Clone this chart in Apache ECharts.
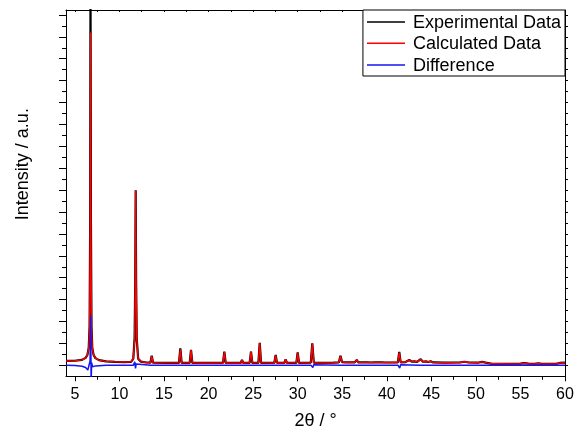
<!DOCTYPE html>
<html><head><meta charset="utf-8">
<script src="https://cdn.jsdelivr.net/npm/echarts@6/dist/echarts.min.js"></script>
<style>html,body{margin:0;padding:0;background:#fff}#c{width:577px;height:439px}</style>
</head><body><div id="c"></div>
<script>
// ---- data (2θ in degrees, intensity in arbitrary units) ----
const seriesNames = ['Experimental Data', 'Calculated Data', 'Difference'];
const seriesColors = ['#000000', '#ff0000', '#1414f0'];

const calcPoints = [
  [4.0,0.40],[5.0,0.42],[5.8,0.50],[6.2,0.68],[6.4,0.95],[6.55,1.6],[6.65,3.4],[6.71,11.5],[6.75,30.4],[6.80,11.5],[6.86,3.4],[6.95,1.6],[7.1,0.95],[7.3,0.66],[7.7,0.48],[8.5,0.36],[9.5,0.32],[10.5,0.30],[11.3,0.32],[11.55,0.6],[11.7,2.4],[11.77,7.5],[11.82,15.95],[11.87,7.5],[11.94,2.4],[12.1,0.6],[12.4,0.34],[13.0,0.26],
  [13.47,0.24],[13.62,0.85],[13.77,0.24],
  [15.26,0.23],[15.41,0.37],[15.56,0.23],
  [16.68,0.23],[16.83,1.47],[16.98,0.23],
  [17.88,0.23],[18.03,1.40],[18.18,0.23],
  [19.26,0.22],[19.41,0.37],[19.56,0.22],
  [21.62,0.22],[21.77,1.22],[21.92,0.22],
  [23.6,0.22],[23.75,0.49],[23.9,0.22],
  [24.61,0.23],[24.76,1.25],[24.91,0.23],
  [25.59,0.23],[25.74,2.01],[25.89,0.23],
  [27.38,0.22],[27.53,0.92],[27.68,0.22],
  [28.5,0.22],[28.65,0.55],[28.8,0.22],
  [29.2,0.23],[29.33,0.35],[29.46,0.23],
  [29.85,0.23],[30.0,1.16],[30.15,0.23],
  [31.47,0.24],[31.64,1.98],[31.81,0.24],
  [32.5,0.22],[34.0,0.24],
  [34.62,0.27],[34.8,0.85],[34.98,0.30],[35.4,0.27],
  [36.1,0.28],[36.25,0.37],[36.4,0.27],[36.5,0.28],[36.63,0.49],[36.78,0.28],
  [37.25,0.27],[37.4,0.31],[37.55,0.27],[37.85,0.27],[38.0,0.31],[38.15,0.26],
  [38.72,0.27],[38.87,0.45],[39.02,0.27],[39.45,0.27],[39.6,0.32],[39.75,0.26],
  [40.4,0.26],[40.55,0.30],[40.7,0.26],
  [41.24,0.27],[41.4,1.16],[41.56,0.28],
  [42.1,0.30],[42.53,0.49],[42.8,0.34],[43.1,0.36],[43.4,0.32],[43.8,0.55],[44.05,0.33],[44.4,0.36],[44.65,0.31],[44.93,0.37],[45.2,0.27],
  [46.5,0.24],[48.2,0.26],[48.7,0.33],[49.2,0.26],[50.2,0.24],[50.7,0.32],[51.1,0.25],[51.8,0.14],[54.0,0.13],[55.0,0.15],[55.4,0.20],[55.9,0.15],[56.6,0.13],[57.0,0.18],[57.4,0.13],[59.0,0.13],[59.4,0.22],[60.0,0.24]
];

const expPoints = [
  [4.0,0.40],[5.0,0.42],[5.8,0.50],[6.2,0.68],[6.4,0.95],[6.55,1.6],[6.65,3.6],[6.71,13],[6.75,35.5],[6.80,13],[6.86,3.6],[6.95,1.6],[7.1,0.95],[7.3,0.66],[7.7,0.48],[8.5,0.36],[9.5,0.32],[10.5,0.30],[11.3,0.32],[11.55,0.6],[11.7,2.5],[11.77,7.6],[11.82,16.0],[11.87,7.6],[11.94,2.4],[12.1,0.6],[12.4,0.34],[13.0,0.26],
  [13.47,0.24],[13.62,0.88],[13.77,0.24],
  [15.26,0.23],[15.41,0.37],[15.56,0.23],
  [16.68,0.23],[16.83,1.56],[16.98,0.23],
  [17.88,0.23],[18.03,1.42],[18.18,0.23],
  [19.26,0.22],[19.41,0.37],[19.56,0.22],
  [21.62,0.22],[21.77,1.25],[21.92,0.22],
  [23.6,0.22],[23.75,0.49],[23.9,0.22],
  [24.61,0.23],[24.76,1.25],[24.91,0.23],
  [25.59,0.23],[25.74,2.06],[25.89,0.23],
  [27.38,0.22],[27.53,0.95],[27.68,0.22],
  [28.5,0.22],[28.65,0.55],[28.8,0.22],
  [29.2,0.23],[29.33,0.35],[29.46,0.23],
  [29.85,0.23],[30.0,1.18],[30.15,0.23],
  [31.47,0.24],[31.64,2.02],[31.81,0.24],
  [32.5,0.22],[34.0,0.24],
  [34.62,0.27],[34.8,0.88],[34.98,0.30],[35.4,0.27],
  [36.1,0.28],[36.25,0.37],[36.4,0.27],[36.5,0.28],[36.63,0.50],[36.78,0.28],
  [37.25,0.27],[37.4,0.31],[37.55,0.27],[37.85,0.27],[38.0,0.31],[38.15,0.26],
  [38.72,0.27],[38.87,0.45],[39.02,0.27],[39.45,0.27],[39.6,0.32],[39.75,0.26],
  [40.4,0.26],[40.55,0.30],[40.7,0.26],
  [41.24,0.27],[41.4,1.22],[41.56,0.28],
  [42.1,0.30],[42.53,0.49],[42.8,0.34],[43.1,0.36],[43.4,0.32],[43.8,0.57],[44.05,0.33],[44.4,0.36],[44.65,0.31],[44.93,0.37],[45.2,0.27],
  [46.5,0.24],[48.2,0.26],[48.7,0.33],[49.2,0.26],[50.2,0.24],[50.7,0.32],[51.1,0.25],[51.8,0.14],[54.0,0.13],[55.0,0.15],[55.4,0.20],[55.9,0.15],[56.6,0.13],[57.0,0.18],[57.4,0.13],[59.0,0.13],[59.4,0.22],[60.0,0.24]
];

const diffPoints = [
  [4.0,0.0],[5.0,-0.02],[5.8,-0.08],[6.2,-0.2],[6.45,-0.42],[6.6,-0.28],[6.7,0.4],[6.77,4.53],[6.82,-1.6],[6.88,0.25],[6.97,-0.12],[7.3,-0.05],[8.5,0.0],
  [11.55,0.0],[11.72,0.33],[11.8,-0.27],[11.87,0.12],[12.0,0.0],
  [13.5,0],[13.6,0.06],[13.7,-0.05],[13.8,0],
  [16.7,0],[16.8,0.12],[16.9,-0.08],[17.0,0],
  [17.9,0],[18.0,-0.12],[18.08,0.05],[18.16,0],
  [21.65,0],[21.74,0.10],[21.82,-0.10],[21.9,0],
  [24.65,0],[24.74,-0.15],[24.82,0.05],[24.9,0],
  [25.63,0],[25.72,-0.12],[25.8,0.06],[25.88,0],
  [27.42,0],[27.5,0.08],[27.58,-0.06],[27.66,0],
  [29.9,0],[29.98,-0.12],[30.06,0.05],[30.14,0],
  [31.5,0],[31.6,0.10],[31.7,-0.20],[31.8,0.05],[31.9,0],
  [34.7,0],[34.78,-0.12],[34.86,0.06],[34.94,0],
  [36.52,0],[36.6,0.10],[36.7,-0.06],[36.78,0],
  [38.78,0],[38.85,-0.08],[38.92,0],
  [41.27,0],[41.35,0.18],[41.45,-0.25],[41.55,0.05],[41.63,0],
  [43.72,0],[43.8,0.08],[43.9,-0.05],[43.98,0],
  [60.0,0.0]
];

// ---- axis ticks / labels ----
const xRange = [4, 60];
const yRange = [-1, 32.45];
const xLabelValues = [5,10,15,20,25,30,35,40,45,50,55,60];
const xMinorValues = [7.5,12.5,17.5,22.5,27.5,32.5,37.5,42.5,47.5,52.5,57.5];
const xTopValues = [5,7.5,10,12.5,15,17.5,20,22.5,25,27.5,30,32.5,35,37.5,40,42.5,45,47.5,50,52.5,55,57.5];
const yMajorValues = [0,2,4,6,8,10,12,14,16,18,20,22,24,26,28,30,32];
const yMinorValues = [1,3,5,7,9,11,13,15,17,19,21,23,25,27,29,31];
const yRightValues = [0,1,2,3,4,5,6,7,8,9,10,11,12,13,14,15,16,17,18,19,20,21,22,23,24,25,26,27,28,29,30,31,32];

const FONT = "'Liberation Sans', Arial, sans-serif";
const chart = echarts.init(document.getElementById('c'), null, {renderer: 'canvas'});
const lineAx = {show: true, onZero: false, lineStyle: {color: '#000', width: 1}};

// legend key strokes drawn on a top layer (library legend supplies the box and texts)
const legendRowY = [22, 43.3, 65];
const legendKeys = seriesNames.map((n, i) => ({
  type: 'rect', zlevel: 1, z: 100, silent: true,
  shape: {x: 367, y: legendRowY[i] - 0.75, width: 38, height: 1.5},
  style: {fill: seriesColors[i], stroke: null, lineWidth: 0}
}));

chart.setOption({
  animation: false,
  backgroundColor: '#fff',
  grid: {left: 66, right: 12, top: 10, bottom: 62.7, containLabel: false},
  legend: {
    data: seriesNames.map(n => ({
      name: n,
      icon: 'rect',
      itemStyle: {color: 'rgba(0,0,0,0)', borderColor: 'rgba(0,0,0,0)', borderWidth: 0, opacity: 0},
      lineStyle: {color: 'rgba(0,0,0,0)', width: 0, opacity: 0}
    })),
    orient: 'vertical', right: 12, top: 10,
    backgroundColor: '#fff', borderColor: '#000', borderWidth: 1, borderRadius: 0,
    padding: [4, 4, 1, 4], itemGap: 3.5,
    itemWidth: 38, itemHeight: 14,
    textStyle: {fontFamily: FONT, fontSize: 18, color: '#000', padding: [0, 0, 0, 3]}
  },
  graphic: legendKeys,
  xAxis: [
    {type: 'value', position: 'bottom', min: xRange[0], max: xRange[1],
     axisLine: lineAx, splitLine: {show: false},
     axisTick: {show: true, inside: false, length: 5, customValues: xLabelValues, lineStyle: {color: '#000'}},
     axisLabel: {show: true, customValues: xLabelValues, margin: 10, color: '#000', fontFamily: FONT, fontSize: 16},
     name: '2θ / °', nameLocation: 'middle', nameGap: 36,
     nameTextStyle: {fontFamily: FONT, fontSize: 18, color: '#000'}},
    {type: 'value', position: 'bottom', min: xRange[0], max: xRange[1],
     axisLine: {show: false, onZero: false}, splitLine: {show: false}, axisLabel: {show: false},
     axisTick: {show: true, inside: false, length: 3.5, customValues: xMinorValues, lineStyle: {color: '#000'}}},
    {type: 'value', position: 'top', min: xRange[0], max: xRange[1],
     axisLine: lineAx, splitLine: {show: false}, axisLabel: {show: false},
     axisTick: {show: true, inside: true, length: 2, customValues: xTopValues, lineStyle: {color: '#000'}}}
  ],
  yAxis: [
    {type: 'value', position: 'left', min: yRange[0], max: yRange[1],
     axisLine: lineAx, splitLine: {show: false}, axisLabel: {show: false},
     axisTick: {show: true, inside: false, length: 7, customValues: yMajorValues, lineStyle: {color: '#000'}},
     name: 'Intensity / a.u.', nameLocation: 'middle', nameGap: 34,
     nameTextStyle: {fontFamily: FONT, fontSize: 18, color: '#000', padding: [0, 0, 0, 58]}},
    {type: 'value', position: 'left', min: yRange[0], max: yRange[1],
     axisLine: {show: false, onZero: false}, splitLine: {show: false}, axisLabel: {show: false},
     axisTick: {show: true, inside: false, length: 4, customValues: yMinorValues, lineStyle: {color: '#000'}}},
    {type: 'value', position: 'right', min: yRange[0], max: yRange[1],
     axisLine: lineAx, splitLine: {show: false}, axisLabel: {show: false},
     axisTick: {show: true, inside: false, length: 3, customValues: yRightValues, lineStyle: {color: '#000'}}}
  ],
  series: [
    {name: seriesNames[0], type: 'line', data: expPoints, xAxisIndex: 0, yAxisIndex: 0,
     symbol: 'none', showSymbol: false, clip: true, color: seriesColors[0],
     lineStyle: {color: seriesColors[0], width: 2.2}},
    {name: seriesNames[1], type: 'line', data: calcPoints, xAxisIndex: 0, yAxisIndex: 0,
     symbol: 'none', showSymbol: false, clip: true, color: seriesColors[1],
     lineStyle: {color: seriesColors[1], width: 1.4}},
    {name: seriesNames[2], type: 'line', data: diffPoints, xAxisIndex: 0, yAxisIndex: 0,
     symbol: 'none', showSymbol: false, clip: true, color: seriesColors[2],
     lineStyle: {color: seriesColors[2], width: 1.5}}
  ]
});
</script>
</body></html>
